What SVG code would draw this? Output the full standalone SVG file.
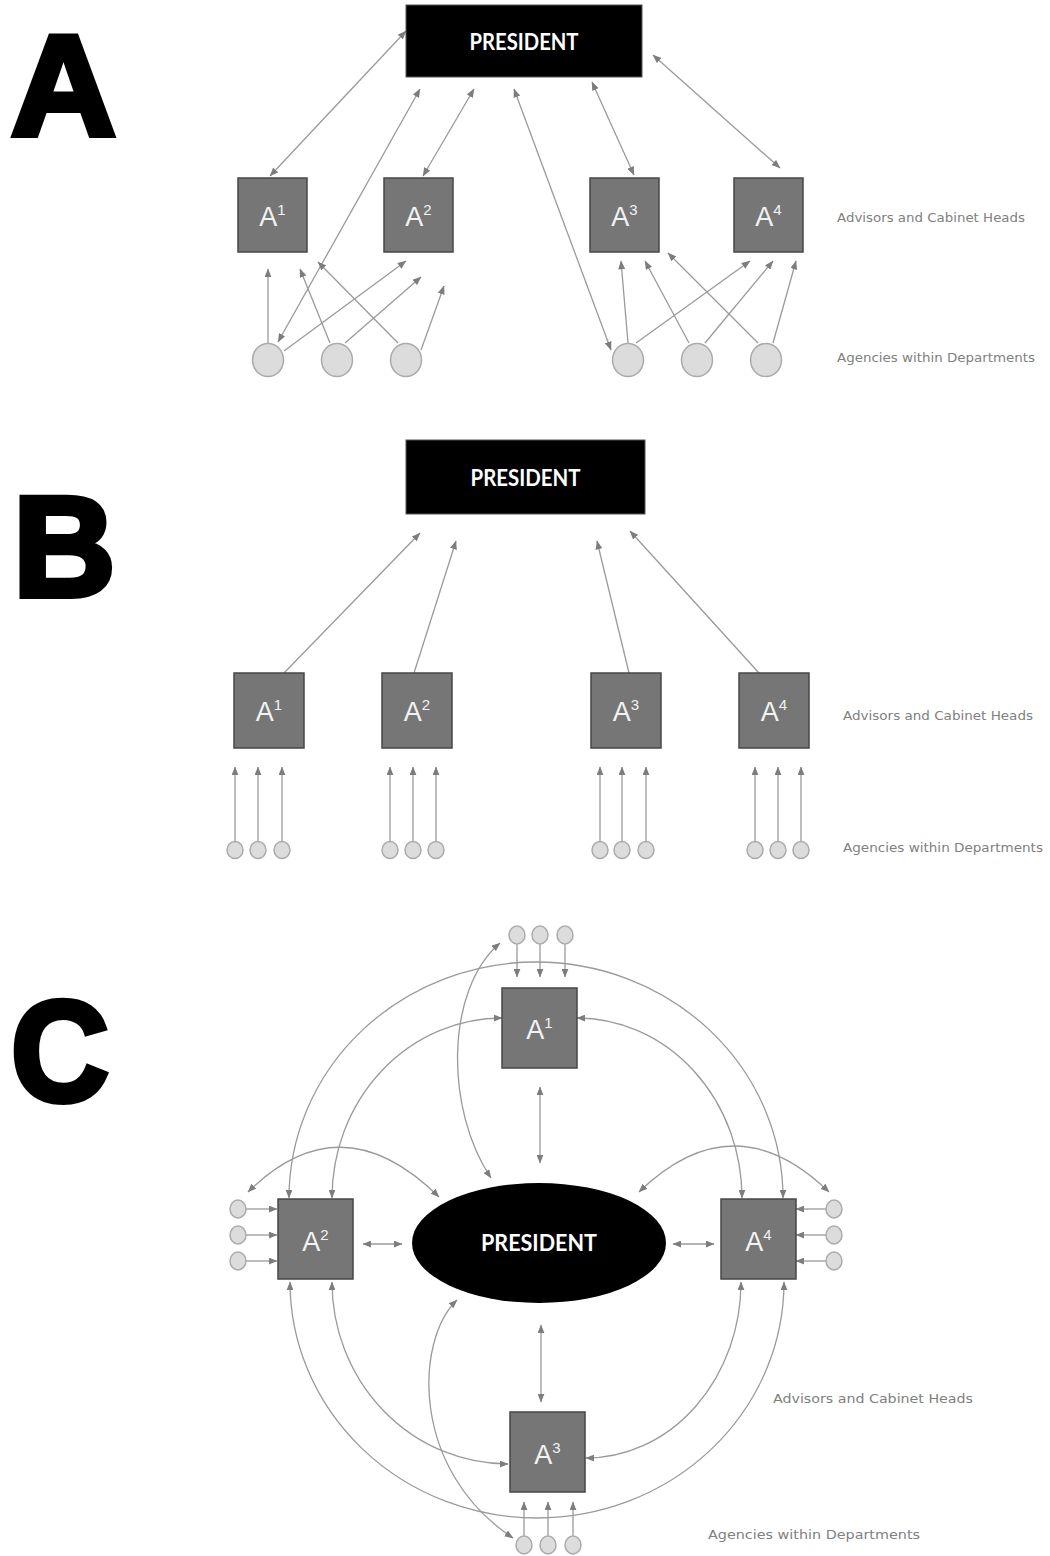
<svg xmlns="http://www.w3.org/2000/svg" width="1050" height="1556" viewBox="0 0 1050 1556">
  <style>
    .ln { stroke: #9a9a9a; stroke-width: 1.3; fill: none; }
    .bi { marker-start: url(#ah); marker-end: url(#ah); }
    .uni { marker-end: url(#ah); }
    .box { fill: #767676; stroke: #474747; stroke-width: 1.5; }
    .ag { fill: #dcdcdc; stroke: #ababab; stroke-width: 1.5; }
    .pres { fill: #000000; stroke: #555555; stroke-width: 1; }
    .ptxt { font-family: Lato, "Open Sans", sans-serif; font-weight: 700; font-size: 22px; fill: #ffffff; text-anchor: middle; }
    .atxt { font-family: "Liberation Sans", Arial, sans-serif; font-size: 27px; fill: #f2f2f2; text-anchor: middle; }
    .sup { font-size: 15px; }
    .lbl { font-family: "DejaVu Sans", Verdana, sans-serif; font-size: 13px; fill: #808080; }
    .big { font-family: "Liberation Sans", Arial, sans-serif; font-weight: 700; font-size: 142px; fill: #000000; stroke: #000000; stroke-width: 6; }
  </style>
  <defs>
    <marker id="ah" viewBox="0 0 10 8" refX="9.5" refY="4" markerWidth="9" markerHeight="7" markerUnits="userSpaceOnUse" orient="auto-start-reverse">
      <path d="M0,0 L10,4 L0,8 z" fill="#7d7d7d"/>
    </marker>
  </defs>
  <rect width="1050" height="1556" fill="#ffffff"/>

  <!-- panel letters -->
  <g id="panel-letters">
    <text class="big" x="11" y="134.5" textLength="105" lengthAdjust="spacingAndGlyphs">A</text>
    <text class="big" x="13" y="595.5">B</text>
    <text class="big" x="11" y="1100.5" textLength="98" lengthAdjust="spacingAndGlyphs">C</text>
  </g>

  <!-- ===== Panel A ===== -->
  <g id="a-connectors">
    <line class="ln bi" x1="270" y1="176" x2="406" y2="31"/>
    <line class="ln bi" x1="278" y1="342" x2="420" y2="89"/>
    <line class="ln bi" x1="423" y1="176" x2="474" y2="89"/>
    <line class="ln bi" x1="611" y1="350" x2="514" y2="89"/>
    <line class="ln bi" x1="634" y1="175" x2="592" y2="82"/>
    <line class="ln bi" x1="780" y1="168" x2="653" y2="55"/>
    <line class="ln uni" x1="268" y1="343" x2="268" y2="269"/>
    <line class="ln uni" x1="330" y1="343" x2="300" y2="269"/>
    <line class="ln uni" x1="398" y1="343" x2="318" y2="262"/>
    <line class="ln uni" x1="284" y1="351" x2="406" y2="261"/>
    <line class="ln uni" x1="345" y1="343" x2="421" y2="277"/>
    <line class="ln uni" x1="421" y1="350" x2="444" y2="286"/>
    <line class="ln uni" x1="628" y1="343" x2="621" y2="261"/>
    <line class="ln uni" x1="689" y1="343" x2="645" y2="261"/>
    <line class="ln uni" x1="758" y1="343" x2="668" y2="253"/>
    <line class="ln uni" x1="636" y1="343" x2="750" y2="261"/>
    <line class="ln uni" x1="705" y1="343" x2="773" y2="261"/>
    <line class="ln uni" x1="773" y1="343" x2="796" y2="261"/>
  </g>
  <g id="a-president">
    <rect class="pres" x="406" y="5" width="236" height="72"/>
    <text class="ptxt" x="524" y="50" textLength="109" lengthAdjust="spacingAndGlyphs">PRESIDENT</text>
  </g>
  <g id="a-adv1"><rect class="box" x="238" y="178" width="69" height="74"/><text class="atxt" x="272.5" y="226">A<tspan class="sup" dy="-11">1</tspan></text></g>
  <g id="a-adv2"><rect class="box" x="384" y="178" width="69" height="74"/><text class="atxt" x="418.5" y="226">A<tspan class="sup" dy="-11">2</tspan></text></g>
  <g id="a-adv3"><rect class="box" x="590" y="178" width="69" height="74"/><text class="atxt" x="624.5" y="226">A<tspan class="sup" dy="-11">3</tspan></text></g>
  <g id="a-adv4"><rect class="box" x="734" y="178" width="69" height="74"/><text class="atxt" x="768.5" y="226">A<tspan class="sup" dy="-11">4</tspan></text></g>
  <g id="a-agencies">
    <ellipse class="ag" cx="268" cy="360" rx="15.5" ry="16.5"/>
    <ellipse class="ag" cx="337" cy="360" rx="15.5" ry="16.5"/>
    <ellipse class="ag" cx="406" cy="360" rx="15.5" ry="16.5"/>
    <ellipse class="ag" cx="628" cy="360" rx="15.5" ry="16.5"/>
    <ellipse class="ag" cx="697" cy="360" rx="15.5" ry="16.5"/>
    <ellipse class="ag" cx="766" cy="360" rx="15.5" ry="16.5"/>
  </g>
  <g id="a-labels">
    <text class="lbl" x="837" y="222" textLength="188" lengthAdjust="spacingAndGlyphs">Advisors and Cabinet Heads</text>
    <text class="lbl" x="837" y="362" textLength="198" lengthAdjust="spacingAndGlyphs">Agencies within Departments</text>
  </g>

  <!-- ===== Panel B ===== -->
  <g id="b-connectors">
    <line class="ln uni" x1="284" y1="673" x2="420" y2="533"/>
    <line class="ln uni" x1="414" y1="673" x2="456" y2="541"/>
    <line class="ln uni" x1="629" y1="673" x2="597" y2="541"/>
    <line class="ln uni" x1="759" y1="673" x2="630" y2="531"/>
    <line class="ln uni" x1="235" y1="841" x2="235" y2="767"/>
    <line class="ln uni" x1="258" y1="841" x2="258" y2="767"/>
    <line class="ln uni" x1="282" y1="841" x2="282" y2="767"/>
    <line class="ln uni" x1="390" y1="841" x2="390" y2="767"/>
    <line class="ln uni" x1="413" y1="841" x2="413" y2="767"/>
    <line class="ln uni" x1="436" y1="841" x2="436" y2="767"/>
    <line class="ln uni" x1="600" y1="841" x2="600" y2="767"/>
    <line class="ln uni" x1="622" y1="841" x2="622" y2="767"/>
    <line class="ln uni" x1="646" y1="841" x2="646" y2="767"/>
    <line class="ln uni" x1="755" y1="841" x2="755" y2="767"/>
    <line class="ln uni" x1="778" y1="841" x2="778" y2="767"/>
    <line class="ln uni" x1="801" y1="841" x2="801" y2="767"/>
  </g>
  <g id="b-president">
    <rect class="pres" x="406" y="440" width="239" height="74"/>
    <text class="ptxt" x="525.5" y="486" textLength="110" lengthAdjust="spacingAndGlyphs">PRESIDENT</text>
  </g>
  <g id="b-adv1"><rect class="box" x="234" y="673" width="70" height="75"/><text class="atxt" x="269" y="721">A<tspan class="sup" dy="-11">1</tspan></text></g>
  <g id="b-adv2"><rect class="box" x="382" y="673" width="70" height="75"/><text class="atxt" x="417" y="721">A<tspan class="sup" dy="-11">2</tspan></text></g>
  <g id="b-adv3"><rect class="box" x="591" y="673" width="70" height="75"/><text class="atxt" x="626" y="721">A<tspan class="sup" dy="-11">3</tspan></text></g>
  <g id="b-adv4"><rect class="box" x="739" y="673" width="70" height="75"/><text class="atxt" x="774" y="721">A<tspan class="sup" dy="-11">4</tspan></text></g>
  <g id="b-agencies">
    <ellipse class="ag" cx="235" cy="850" rx="8" ry="8.5"/>
    <ellipse class="ag" cx="258" cy="850" rx="8" ry="8.5"/>
    <ellipse class="ag" cx="282" cy="850" rx="8" ry="8.5"/>
    <ellipse class="ag" cx="390" cy="850" rx="8" ry="8.5"/>
    <ellipse class="ag" cx="413" cy="850" rx="8" ry="8.5"/>
    <ellipse class="ag" cx="436" cy="850" rx="8" ry="8.5"/>
    <ellipse class="ag" cx="600" cy="850" rx="8" ry="8.5"/>
    <ellipse class="ag" cx="622" cy="850" rx="8" ry="8.5"/>
    <ellipse class="ag" cx="646" cy="850" rx="8" ry="8.5"/>
    <ellipse class="ag" cx="755" cy="850" rx="8" ry="8.5"/>
    <ellipse class="ag" cx="778" cy="850" rx="8" ry="8.5"/>
    <ellipse class="ag" cx="801" cy="850" rx="8" ry="8.5"/>
  </g>
  <g id="b-labels">
    <text class="lbl" x="843" y="720" textLength="190" lengthAdjust="spacingAndGlyphs">Advisors and Cabinet Heads</text>
    <text class="lbl" x="843" y="852" textLength="200" lengthAdjust="spacingAndGlyphs">Agencies within Departments</text>
  </g>

  <!-- ===== Panel C ===== -->
  <g id="c-connectors">
    <!-- outer arcs linking A2 and A4 -->
    <path class="ln bi" d="M289,1198 A247,236 0 0 1 783,1198"/>
    <path class="ln bi" d="M290,1282 A247,236 0 0 0 784,1282"/>
    <!-- inner arcs between neighbouring advisors -->
    <path class="ln bi" d="M332,1198 A170,180 0 0 1 502,1018"/>
    <path class="ln bi" d="M577,1018 A165,180 0 0 1 742,1198"/>
    <path class="ln bi" d="M332,1282 A176,182 0 0 0 508,1464"/>
    <path class="ln bi" d="M741,1282 A155,176 0 0 1 586,1458"/>
    <!-- small arcs over A2 and A4 -->
    <path class="ln bi" d="M248,1192 Q341,1100 439,1197"/>
    <path class="ln bi" d="M639,1192 Q734,1100 829,1192"/>
    <!-- agency-to-president curves -->
    <path class="ln bi" d="M500,943 C445,990 445,1110 491,1178"/>
    <path class="ln bi" d="M457,1300 C415,1340 410,1470 513,1538"/>
    <!-- straight links to the president -->
    <line class="ln bi" x1="540" y1="1087" x2="540" y2="1163"/>
    <line class="ln bi" x1="363" y1="1244" x2="402" y2="1244"/>
    <line class="ln bi" x1="673" y1="1244" x2="714" y2="1244"/>
    <line class="ln bi" x1="541" y1="1325" x2="541" y2="1402"/>
    <!-- agency feeds -->
    <line class="ln uni" x1="517" y1="944" x2="517" y2="977"/>
    <line class="ln uni" x1="540" y1="944" x2="540" y2="977"/>
    <line class="ln uni" x1="565" y1="944" x2="565" y2="977"/>
    <line class="ln uni" x1="246" y1="1209" x2="277" y2="1209"/>
    <line class="ln uni" x1="246" y1="1235" x2="277" y2="1235"/>
    <line class="ln uni" x1="246" y1="1261" x2="277" y2="1261"/>
    <line class="ln uni" x1="826" y1="1209" x2="796" y2="1209"/>
    <line class="ln uni" x1="826" y1="1235" x2="796" y2="1235"/>
    <line class="ln uni" x1="826" y1="1261" x2="796" y2="1261"/>
    <line class="ln uni" x1="524" y1="1536" x2="524" y2="1502"/>
    <line class="ln uni" x1="548" y1="1536" x2="548" y2="1502"/>
    <line class="ln uni" x1="573" y1="1536" x2="573" y2="1502"/>
  </g>
  <g id="c-president">
    <ellipse cx="539" cy="1243" rx="127" ry="60" fill="#000000"/>
    <text class="ptxt" x="539" y="1251" textLength="116" lengthAdjust="spacingAndGlyphs">PRESIDENT</text>
  </g>
  <g id="c-adv1"><rect class="box" x="502" y="988" width="75" height="80"/><text class="atxt" x="539.5" y="1039">A<tspan class="sup" dy="-11">1</tspan></text></g>
  <g id="c-adv2"><rect class="box" x="278" y="1199" width="75" height="80"/><text class="atxt" x="315.5" y="1251">A<tspan class="sup" dy="-11">2</tspan></text></g>
  <g id="c-adv3"><rect class="box" x="510" y="1412" width="75" height="80"/><text class="atxt" x="547.5" y="1464">A<tspan class="sup" dy="-11">3</tspan></text></g>
  <g id="c-adv4"><rect class="box" x="721" y="1199" width="75" height="80"/><text class="atxt" x="758.5" y="1251">A<tspan class="sup" dy="-11">4</tspan></text></g>
  <g id="c-agencies">
    <ellipse class="ag" cx="517" cy="935" rx="8" ry="9"/>
    <ellipse class="ag" cx="540" cy="935" rx="8" ry="9"/>
    <ellipse class="ag" cx="565" cy="935" rx="8" ry="9"/>
    <ellipse class="ag" cx="238" cy="1209" rx="8" ry="9"/>
    <ellipse class="ag" cx="238" cy="1235" rx="8" ry="9"/>
    <ellipse class="ag" cx="238" cy="1261" rx="8" ry="9"/>
    <ellipse class="ag" cx="834" cy="1209" rx="8" ry="9"/>
    <ellipse class="ag" cx="834" cy="1235" rx="8" ry="9"/>
    <ellipse class="ag" cx="834" cy="1261" rx="8" ry="9"/>
    <ellipse class="ag" cx="524" cy="1545" rx="8" ry="9"/>
    <ellipse class="ag" cx="548" cy="1545" rx="8" ry="9"/>
    <ellipse class="ag" cx="573" cy="1545" rx="8" ry="9"/>
  </g>
  <g id="c-labels">
    <text class="lbl" x="773" y="1403" textLength="200" lengthAdjust="spacingAndGlyphs">Advisors and Cabinet Heads</text>
    <text class="lbl" x="708" y="1539" textLength="212" lengthAdjust="spacingAndGlyphs">Agencies within Departments</text>
  </g>
</svg>
